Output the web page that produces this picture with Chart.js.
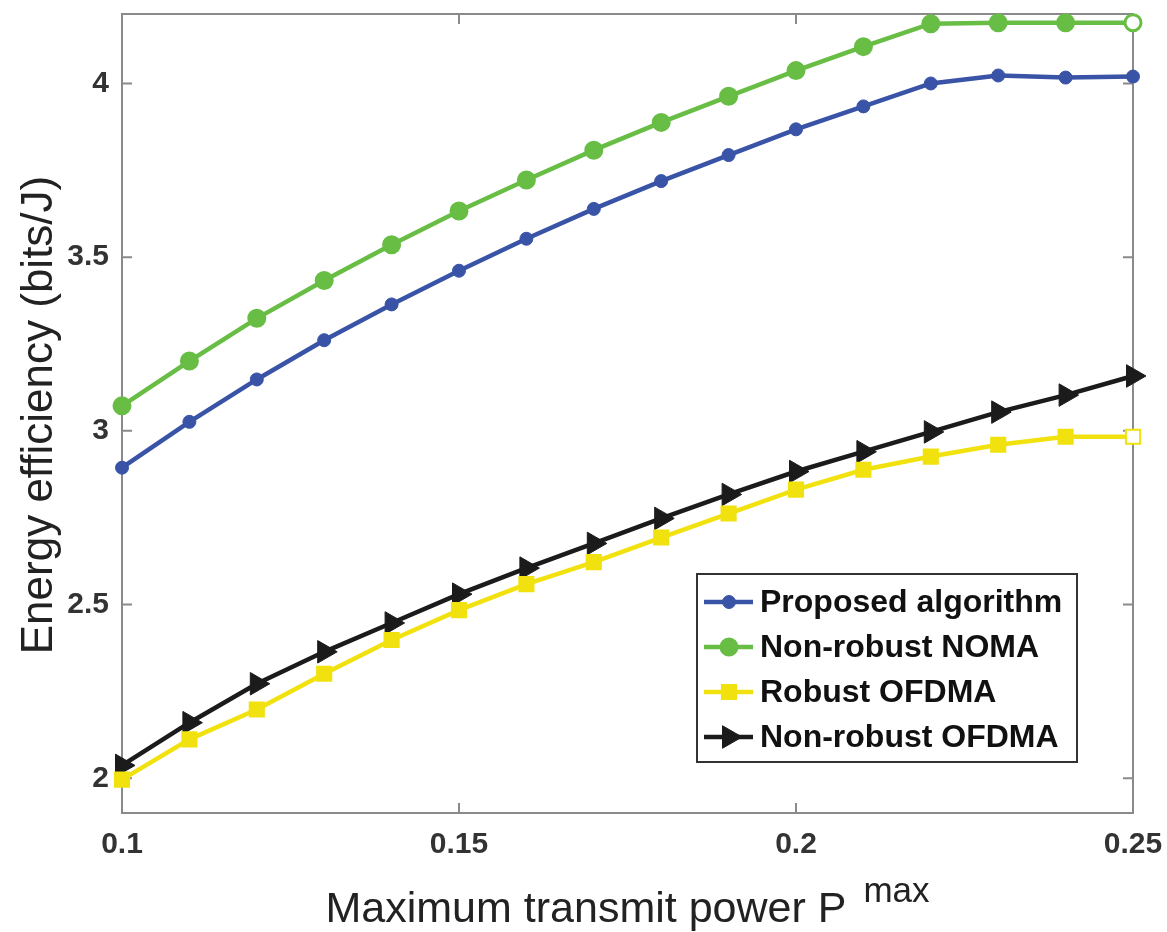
<!DOCTYPE html>
<html>
<head>
<meta charset="utf-8">
<script src="https://cdn.jsdelivr.net/npm/chart.js@4.4.1/dist/chart.umd.min.js"></script>
<style>
	html, body { margin:0; padding:0; background:#fff; }
	#grafico { display:block; }
</style>
</head>
<body>
<canvas id="grafico" width="1167" height="932"></canvas>
<script>
//Dados
var pMax = [0.10, 0.11, 0.12, 0.13, 0.14, 0.15, 0.16, 0.17, 0.18, 0.19, 0.20, 0.21, 0.22, 0.23, 0.24, 0.25];
var proposed = [2.894, 3.026, 3.148, 3.261, 3.364, 3.461, 3.553, 3.639, 3.719, 3.794, 3.868, 3.934, 4.000, 4.023, 4.017, 4.020];
var nonRobustNoma = [3.072, 3.201, 3.324, 3.433, 3.536, 3.633, 3.722, 3.808, 3.888, 3.963, 4.037, 4.106, 4.172, 4.175, 4.175, 4.175];
var robustOfdma = [1.996, 2.112, 2.198, 2.301, 2.398, 2.484, 2.559, 2.622, 2.693, 2.762, 2.831, 2.888, 2.926, 2.960, 2.983, 2.983];
var nonRobustOfdma = [2.037, 2.160, 2.272, 2.364, 2.447, 2.530, 2.605, 2.676, 2.748, 2.817, 2.883, 2.940, 2.997, 3.054, 3.103, 3.158];
var seriesNames = ["Proposed algorithm", "Non-robust NOMA", "Robust OFDMA", "Non-robust OFDMA"];
var xTicks = [0.1, 0.15, 0.2, 0.25];
var yTicks = [2, 2.5, 3, 3.5, 4];
var xTitle = "Maximum transmit power P";
var xTitleSup = "max";
var yTitle = "Energy efficiency (bits/J)";

var FONTE = '"Liberation Sans", Arial, Helvetica, sans-serif';

function pares(ys) {
	return pMax.map(function(x, i) { return {x: x, y: ys[i]}; });
}

//ultimo marcador vazado (como no original)
function fundo(cor, n, vazado) {
	var arr = [];
	for (var i = 0; i < n; i++) arr.push(cor);
	if (vazado) arr[n - 1] = '#ffffff';
	return arr;
}

var azul = '#3953a6', verde = '#68bd45', amarelo = '#f1e20f', preto = '#1b1b1b';

var datasets = [
	{label: seriesNames[0], data: pares(proposed), borderColor: azul, backgroundColor: azul,
		pointStyle: 'circle', pointRadius: 6.5, pointBorderWidth: 1, pointBackgroundColor: azul},
	{label: seriesNames[1], data: pares(nonRobustNoma), borderColor: verde, backgroundColor: verde,
		pointStyle: 'circle', pointRadius: 8, pointBorderWidth: 3, pointBackgroundColor: fundo(verde, pMax.length, true)},
	{label: seriesNames[2], data: pares(robustOfdma), borderColor: amarelo, backgroundColor: amarelo,
		pointStyle: 'rect', pointRadius: 10, pointBorderWidth: 2, pointBackgroundColor: fundo(amarelo, pMax.length, true)},
	{label: seriesNames[3], data: pares(nonRobustOfdma), borderColor: preto, backgroundColor: preto,
		pointStyle: 'triangle', pointRotation: 90, pointRadius: 13, pointBorderWidth: 1, pointBackgroundColor: preto}
];
datasets.forEach(function(d) {
	d.borderWidth = 4.5;
	d.pointBorderColor = d.borderColor;
	d.tension = 0;
	d.fill = false;
	d.clip = false;
});

//Moldura, ticks internos, titulos e legenda estilo MATLAB
var estiloMatlab = {
	id: 'estiloMatlab',
	beforeDatasetsDraw: function(chart) {
		var ctx = chart.ctx, a = chart.chartArea;
		var sx = chart.scales.x, sy = chart.scales.y;
		ctx.save();
		ctx.strokeStyle = '#8a8a8a';
		ctx.lineWidth = 2;
		ctx.strokeRect(a.left, a.top, a.right - a.left, a.bottom - a.top);
		ctx.beginPath();
		xTicks.forEach(function(v) {
			var px = sx.getPixelForValue(v);
			ctx.moveTo(px, a.bottom); ctx.lineTo(px, a.bottom - 10);
			ctx.moveTo(px, a.top); ctx.lineTo(px, a.top + 10);
		});
		yTicks.forEach(function(v) {
			var py = sy.getPixelForValue(v);
			ctx.moveTo(a.left, py); ctx.lineTo(a.left + 10, py);
			ctx.moveTo(a.right, py); ctx.lineTo(a.right - 10, py);
		});
		ctx.stroke();
		ctx.restore();
	},
	afterDraw: function(chart) {
		var ctx = chart.ctx, a = chart.chartArea;
		ctx.save();
		ctx.fillStyle = '#222';

		//titulo x com sobrescrito
		ctx.font = '43px ' + FONTE;
		var w1 = ctx.measureText(xTitle).width;
		ctx.font = '35px ' + FONTE;
		var w2 = ctx.measureText(xTitleSup).width;
		var gap = 17;
		var x0 = (a.left + a.right) / 2 - (w1 + gap + w2) / 2;
		ctx.textAlign = 'left';
		ctx.textBaseline = 'alphabetic';
		ctx.font = '43px ' + FONTE;
		ctx.fillText(xTitle, x0, 922);
		ctx.font = '35px ' + FONTE;
		ctx.fillText(xTitleSup, x0 + w1 + gap, 902);

		//titulo y
		ctx.save();
		ctx.translate(52, 415);
		ctx.rotate(-Math.PI / 2);
		ctx.textAlign = 'center';
		ctx.font = '44px ' + FONTE;
		ctx.fillText(yTitle, 0, 0);
		ctx.restore();

		//legenda
		var lx = 697, ly = 574, lw = 380, lh = 188;
		ctx.fillStyle = '#fff';
		ctx.fillRect(lx, ly, lw, lh);
		ctx.strokeStyle = '#333';
		ctx.lineWidth = 2;
		ctx.strokeRect(lx, ly, lw, lh);
		chart.data.datasets.forEach(function(d, i) {
			var cy = 602 + i * 45;
			ctx.strokeStyle = d.borderColor;
			ctx.lineWidth = 4.5;
			ctx.beginPath();
			ctx.moveTo(704, cy); ctx.lineTo(753, cy);
			ctx.stroke();
			ctx.fillStyle = d.borderColor;
			ctx.lineWidth = d.pointBorderWidth;
			Chart.helpers.drawPoint(ctx, {pointStyle: d.pointStyle, rotation: d.pointRotation || 0,
				radius: d.pointRadius, borderWidth: d.pointBorderWidth}, 729, cy);
			ctx.fillStyle = '#111';
			ctx.font = 'bold 32px ' + FONTE;
			ctx.textAlign = 'left';
			ctx.textBaseline = 'middle';
			ctx.fillText(d.label, 760, cy + 1);
		});
		ctx.restore();
	}
};

var config = {
	type: 'line',
	data: { datasets: datasets },
	options: {
		responsive: false,
		animation: false,
		layout: { padding: { top: 10, right: 34, left: 0, bottom: 0 } },
		plugins: {
			legend: { display: false },
			tooltip: { enabled: false }
		},
		scales: {
			x: {
				type: 'linear',
				min: 0.1,
				max: 0.25,
				grid: { display: false, drawTicks: false },
				border: { display: false },
				afterBuildTicks: function(scale) {
					scale.ticks = xTicks.map(function(v) { return {value: v}; });
				},
				afterFit: function(scale) {
					scale.height = 119;
					scale.paddingLeft = 0;
					scale.paddingRight = 0;
				},
				ticks: {
					padding: 14,
					color: '#333',
					font: { family: FONTE, size: 30, weight: 'bold' },
					maxRotation: 0,
					callback: function(v) { return String(v); }
				}
			},
			y: {
				type: 'linear',
				min: 1.9,
				max: 4.2,
				grid: { display: false, drawTicks: false },
				border: { display: false },
				afterBuildTicks: function(scale) {
					scale.ticks = yTicks.map(function(v) { return {value: v}; });
				},
				afterFit: function(scale) {
					scale.width = 122;
					scale.paddingTop = 0;
					scale.paddingBottom = 0;
				},
				ticks: {
					padding: 13,
					color: '#333',
					font: { family: FONTE, size: 30, weight: 'bold' },
					callback: function(v) { return String(v); }
				}
			}
		}
	},
	plugins: [estiloMatlab]
};

window.onload = function() {
	var ctx = document.getElementById("grafico").getContext("2d");
	window.graficoEE = new Chart(ctx, config);
};
</script>
</body>
</html>
